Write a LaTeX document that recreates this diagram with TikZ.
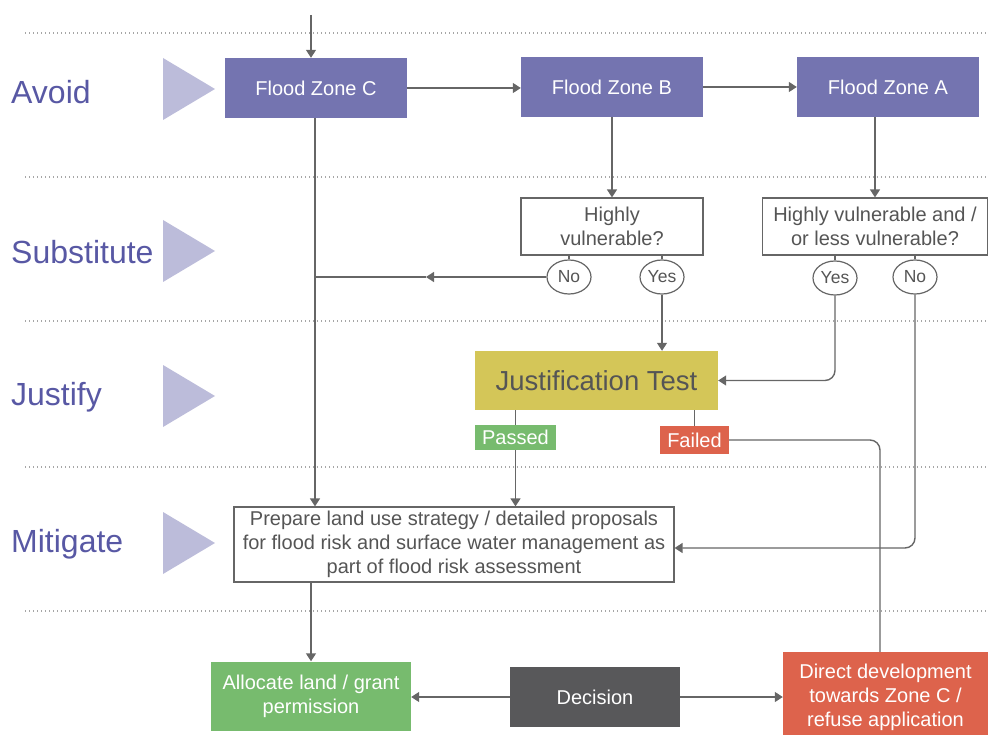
\documentclass[tikz,border=0pt]{standalone}
\usepackage{fontspec}
\setmainfont{Liberation Sans}
\usetikzlibrary{arrows.meta,shapes.geometric}
\definecolor{zone}{HTML}{7474B0}
\definecolor{tri}{HTML}{BCBCDA}
\definecolor{lab}{HTML}{5858A4}
\definecolor{ln}{HTML}{666666}
\definecolor{txt}{HTML}{555555}
\definecolor{jtc}{HTML}{D4C658}
\definecolor{grn}{HTML}{77BB6E}
\definecolor{redc}{HTML}{DD634C}
\definecolor{dec}{HTML}{58585A}
\tikzset{
  base/.style={inner sep=0pt, align=center, font=\fontsize{20}{24}\selectfont},
  zonebox/.style={base, fill=zone, text=white, minimum width=182pt, minimum height=60pt},
  qbox/.style={base, draw=ln, line width=1.2pt, fill=white, text=txt},
  oval/.style={ellipse, draw=ln, line width=1.2pt, fill=white, text=txt, inner sep=0pt,
     minimum width=44pt, minimum height=34pt, font=\fontsize{17.5}{20}\selectfont},
  colbox/.style={base, text=white},
  rowlab/.style={anchor=west, text=lab, inner sep=0pt, font=\fontsize{32}{36}\selectfont},
  conn/.style={draw=ln, line width=1.4pt},
  arr/.style={conn, -{Triangle[width=10pt,length=8pt]}},
  sep/.style={draw=gray!70, line width=1.4pt, dash pattern=on 1.4pt off 2.6pt},
  tri/.style={fill=tri}
}
\begin{document}
\begin{tikzpicture}[x=1pt,y=-1pt]
\useasboundingbox (0,0) rectangle (988,735);
% separators
\foreach \yy in {33,177,321,467,611} \draw[sep] (25,\yy) -- (988,\yy);
% row labels
\node[rowlab] (lavoid) at (11,92) {Avoid};
\node[rowlab] (lsubst) at (11,252) {Substitute};
\node[rowlab] (ljust) at (11,397) {Justify};
\node[rowlab] (lmitig) at (11,544) {Mitigate};
% triangles
\foreach \cy in {89,251,396,543} \fill[tri] (163,\cy-31) -- (215,\cy) -- (163,\cy+31) -- cycle;
% zones
\node[zonebox] (fzc) at (316,88) {Flood Zone C};
\node[zonebox] (fzb) at (612,87) {Flood Zone B};
\node[zonebox] (fza) at (888,87) {Flood Zone A};
% questions
\node[qbox, minimum width=182pt, minimum height=57pt] (hv) at (612,226.5) {Highly\\vulnerable?};
\node[qbox, minimum width=225pt, minimum height=57pt] (hvl) at (875,226.5) {Highly vulnerable and /\\or less vulnerable?};
\node[oval] (no1) at (569,277) {No};
\node[oval] (yes1) at (662,277) {Yes};
\node[oval] (yes2) at (835,278) {Yes};
\node[oval] (no2) at (915,277) {No};
% justification
\node[base, fill=jtc, text=txt, minimum width=243pt, minimum height=59pt, font=\fontsize{27.5}{32}\selectfont] (jt) at (596.5,380.5) {Justification Test};
\node[colbox, fill=grn, minimum width=81pt, minimum height=25pt] (passed) at (515.5,437.5) {Passed};
\node[colbox, fill=redc, minimum width=69pt, minimum height=28pt] (failed) at (694.5,440) {Failed};
% mitigate
\node[qbox, minimum width=440pt, minimum height=75pt] (prep) at (454,544.5) {Prepare land use strategy / detailed proposals\\for flood risk and surface water management as\\part of flood risk assessment};
% bottom
\node[colbox, fill=grn, minimum width=200pt, minimum height=69pt] (alloc) at (311,696) {Allocate land / grant\\permission};
\node[colbox, fill=dec, minimum width=170pt, minimum height=60pt] (decis) at (595,697) {Decision};
\node[colbox, fill=redc, minimum width=205pt, minimum height=90pt] (direct) at (885.5,697) {Direct development\\towards Zone C /\\refuse application};
% connectors
\coordinate (top) at (311,15);
\draw[arr] (top) -- (top |- fzc.north);
\draw[arr] (fzc.east) -- (fzb.west |- fzc.east);
\draw[arr] (fzb.east) -- (fza.west);
\draw[arr] (fzb.south) -- (hv.north);
\draw[arr] (fza.south -| hvl.north) -- (hvl.north);
\draw[conn] (hv.south -| no1.north) -- (no1.north);
\draw[conn] (hv.south -| yes1.north) -- (yes1.north);
\draw[conn] (hvl.south -| yes2.north) -- (yes2.north);
\draw[conn] (hvl.south -| no2.north) -- (no2.north);
\coordinate (jn) at (315,277);
\coordinate (mid) at (426,277);
\draw[arr] (no1.west) -- (mid);
\draw[conn] (mid) -- (jn);
\draw[arr] (fzc.south -| jn) -- (prep.north -| jn);
\draw[arr] (yes1.south) -- (jt.north -| yes1.south);
\draw[arr, rounded corners=10pt] (yes2.south) |- (jt.east);
\draw[arr, rounded corners=10pt] (no2.south) |- (prep.east |- 0,548);
\draw[conn] (jt.south -| passed.north) -- (passed.north);
\draw[arr] (passed.south) -- (prep.north -| passed.south);
\draw[conn] (jt.south -| failed.north) -- (failed.north);
\draw[conn, rounded corners=10pt] (failed.east) -| (direct.north -| 880,0);
\draw[arr] (prep.south -| alloc.north) -- (alloc.north);
\draw[arr] (decis.west) -- (alloc.east |- decis.west);
\draw[arr] (decis.east) -- (direct.west |- decis.east);
\end{tikzpicture}
\end{document}
